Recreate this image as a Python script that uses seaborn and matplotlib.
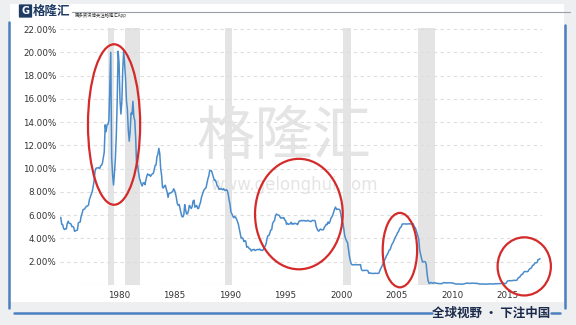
import numpy as np
import pandas as pd
import matplotlib
matplotlib.use("Agg")
import matplotlib.pyplot as plt
from matplotlib.patches import Ellipse, Rectangle, FancyBboxPatch
from matplotlib.lines import Line2D
import seaborn as sns

# ---------------- data (monthly effective federal funds rate, %) ----------------
start_year = 1975.75
rates = [
    5.82, 5.22, 5.20,
    4.87, 4.77, 4.84, 4.82, 5.29, 5.48, 5.31, 5.29, 5.25, 5.02, 5.03, 4.95,
    4.61, 4.68, 4.69, 4.73, 5.35, 5.39, 5.42, 5.90, 6.14, 6.47, 6.51, 6.56,
    6.70, 6.78, 6.79, 6.89, 7.36, 7.60, 7.81, 8.04, 8.45, 8.96, 9.76, 10.03,
    10.07, 10.06, 10.09, 10.01, 10.24, 10.29, 10.47, 10.94, 11.43, 13.77, 13.18, 13.78,
    13.82, 14.13, 17.19, 20.00, 10.98, 9.47, 8.60, 9.61, 10.87, 12.81, 15.85, 20.10,
    19.08, 15.93, 14.70, 15.72, 18.52, 20.20, 19.04, 17.82, 15.87, 15.08, 13.31, 12.37,
    13.22, 14.78, 14.68, 15.80, 14.45, 14.15, 12.59, 10.12, 10.31, 9.71, 9.20, 8.95,
    8.68, 8.51, 8.77, 8.80, 8.63, 8.98, 9.37, 9.56, 9.45, 9.48, 9.34, 9.47,
    9.56, 9.59, 9.91, 10.29, 10.32, 11.06, 11.23, 11.75, 11.30, 9.99, 9.43, 8.38,
    8.35, 8.50, 8.58, 8.27, 7.97, 7.53, 7.88, 7.90, 7.92, 7.99, 8.05, 8.27,
    8.14, 7.86, 7.48, 6.99, 6.85, 6.92, 6.56, 6.17, 5.89, 5.85, 6.04, 6.91,
    6.43, 6.10, 6.13, 6.37, 6.85, 6.73, 6.58, 6.73, 7.22, 7.29, 6.69, 6.77,
    6.83, 6.58, 6.58, 6.87, 7.09, 7.51, 7.75, 8.01, 8.19, 8.30, 8.35, 8.76,
    9.12, 9.36, 9.85, 9.84, 9.81, 9.53, 9.24, 8.99, 9.02, 8.84, 8.55, 8.45,
    8.23, 8.24, 8.28, 8.26, 8.18, 8.29, 8.15, 8.13, 8.20, 8.11, 7.81, 7.31,
    6.91, 6.25, 6.12, 5.91, 5.78, 5.90, 5.82, 5.66, 5.45, 5.21, 4.81, 4.43,
    4.03, 4.06, 3.98, 3.73, 3.82, 3.76, 3.25, 3.30, 3.22, 3.10, 3.09, 2.92,
    3.02, 3.03, 3.07, 2.96, 3.00, 3.04, 3.06, 3.03, 3.09, 2.99, 3.02, 2.96,
    3.05, 3.25, 3.34, 3.56, 4.01, 4.25, 4.26, 4.47, 4.73, 4.76, 5.29, 5.45,
    5.53, 5.92, 6.10, 6.05, 6.01, 6.00, 5.85, 5.74, 5.80, 5.76, 5.80, 5.60,
    5.56, 5.22, 5.31, 5.22, 5.24, 5.27, 5.40, 5.22, 5.30, 5.24, 5.31, 5.29,
    5.25, 5.19, 5.39, 5.51, 5.50, 5.56, 5.52, 5.54, 5.54, 5.50, 5.52, 5.50,
    5.56, 5.51, 5.49, 5.45, 5.49, 5.56, 5.54, 5.55, 5.51, 5.07, 4.83, 4.68,
    4.63, 4.76, 4.81, 4.74, 4.74, 4.76, 4.99, 5.07, 5.22, 5.20, 5.42, 5.30,
    5.45, 5.73, 5.85, 6.02, 6.27, 6.53, 6.70, 6.50, 6.52, 6.51, 6.51, 6.40,
    5.98, 5.49, 5.31, 4.80, 4.21, 3.97, 3.77, 3.65, 3.07, 2.49, 2.09, 1.82,
    1.73, 1.74, 1.73, 1.75, 1.75, 1.75, 1.73, 1.74, 1.75, 1.75, 1.34, 1.24,
    1.24, 1.26, 1.25, 1.26, 1.26, 1.22, 1.01, 1.03, 1.01, 1.01, 1.00, 0.98,
    1.00, 1.01, 1.00, 1.00, 1.00, 1.03, 1.26, 1.43, 1.61, 1.76, 1.93, 2.16,
    2.28, 2.50, 2.63, 2.79, 3.00, 3.04, 3.26, 3.50, 3.62, 3.78, 4.00, 4.16,
    4.29, 4.49, 4.59, 4.79, 4.94, 4.99, 5.24, 5.25, 5.25, 5.25, 5.25, 5.24,
    5.25, 5.26, 5.26, 5.25, 5.25, 5.25, 5.26, 5.02, 4.94, 4.76, 4.49, 4.24,
    3.94, 2.98, 2.61, 2.28, 1.98, 2.00, 2.01, 2.00, 1.81, 0.97, 0.39, 0.16,
    0.15, 0.22, 0.18, 0.15, 0.18, 0.21, 0.16, 0.16, 0.15, 0.12, 0.12, 0.12,
    0.11, 0.13, 0.16, 0.20, 0.20, 0.18, 0.18, 0.19, 0.19, 0.19, 0.19, 0.18,
    0.17, 0.16, 0.14, 0.10, 0.09, 0.09, 0.07, 0.10, 0.08, 0.07, 0.08, 0.07,
    0.08, 0.10, 0.13, 0.14, 0.16, 0.16, 0.16, 0.13, 0.14, 0.16, 0.16, 0.16,
    0.14, 0.15, 0.14, 0.15, 0.11, 0.09, 0.09, 0.08, 0.08, 0.09, 0.08, 0.09,
    0.07, 0.07, 0.08, 0.09, 0.09, 0.10, 0.09, 0.09, 0.09, 0.09, 0.09, 0.12,
    0.11, 0.11, 0.11, 0.12, 0.12, 0.13, 0.13, 0.14, 0.14, 0.12, 0.12, 0.24,
    0.34, 0.38, 0.36, 0.37, 0.37, 0.38, 0.39, 0.40, 0.40, 0.40, 0.41, 0.54,
    0.65, 0.66, 0.79, 0.90, 0.91, 1.04, 1.15, 1.16, 1.15, 1.15, 1.16, 1.30,
    1.41, 1.42, 1.51, 1.69, 1.70, 1.82, 1.91, 1.91, 1.95, 2.19, 2.20, 2.27,
]

# recession periods (decimal years)
recession_start = [1980.0, 1981.5, 1990.5, 2001.2, 2007.9]
recession_end = [1980.5, 1982.9, 1991.2, 2001.9, 2009.5]

x_ticks = [1980, 1985, 1990, 1995, 2000, 2005, 2010, 2015]
y_ticks = [2, 4, 6, 8, 10, 12, 14, 16, 18, 20, 22]

# highlight ellipses: centre year, centre value, width (years), height (%)
ell_cx = [1980.55, 1997.2, 2006.3, 2017.5]
ell_cy = [13.8, 6.1, 3.0, 1.6]
ell_w = [4.7, 7.9, 3.1, 4.8]
ell_h = [13.8, 9.5, 6.4, 5.0]

df = pd.DataFrame({
    "year": start_year + np.arange(len(rates)) / 12.0,
    "rate": rates,
})

# ---------------- figure ----------------
sns.set_style("white")
plt.rcParams["font.family"] = ["DejaVu Sans", "Noto Sans CJK SC"]

W, H = 576, 325
fig = plt.figure(figsize=(W / 100, H / 100), dpi=100)
fig.patch.set_facecolor("#eeeff1")

def fx(px):
    return px / W

def fy(py):
    return 1 - py / H

# white panel behind everything
fig.patches.append(Rectangle((fx(10), fy(302)), fx(554), fy(4) - fy(302),
                             transform=fig.transFigure, facecolor="white",
                             edgecolor="none", zorder=-10))

ax = fig.add_axes([fx(60), fy(285), fx(542 - 60), fy(28) - fy(285)])
ax.set_facecolor("none")

# recession shading
for s, e in zip(recession_start, recession_end):
    ax.axvspan(s, e, color="#e4e4e4", lw=0, zorder=0)

# watermark
ax.text(0.465, 0.575, "格隆汇", transform=ax.transAxes, fontsize=42,
        family=["Noto Sans CJK SC"], fontweight="light", color="#e4e4e4",
        ha="center", va="center", zorder=1)
ax.text(0.485, 0.39, "www.gelonghui.com", transform=ax.transAxes, fontsize=12,
        color="#e4e4e4", ha="center", va="center", zorder=1)

# gridlines
for v in [0] + y_ticks:
    ax.axhline(v, color="#c8c8c8" if v == 0 else "#dddddd", lw=0.8,
               ls=(0, (3, 3)), zorder=1)

sns.lineplot(data=df, x="year", y="rate", ax=ax, color="#4a8ccb", linewidth=1.1,
             zorder=3)

for cx, cy, w, h in zip(ell_cx, ell_cy, ell_w, ell_h):
    ax.add_patch(Ellipse((cx, cy), w, h, fill=False, edgecolor="#d42a2a",
                         lw=1.6, zorder=5, clip_on=False))

ax.set_xlim(1975.68, 2019.1)
ax.set_ylim(0, 22.1)
ax.set_xlabel("")
ax.set_ylabel("")
ax.set_xticks(x_ticks)
ax.set_xticklabels([str(t) for t in x_ticks], fontsize=6.3, color="#333333")
for lab in ax.get_xticklabels():
    lab.set_horizontalalignment("left")
ax.set_yticks(y_ticks)
ax.set_yticklabels([f"{v:.2f}%" for v in y_ticks], fontsize=6.3, color="#333333")
ax.tick_params(axis="both", length=0)
ax.tick_params(axis="x", pad=4.5)
ax.tick_params(axis="y", pad=2.5)
for sp in ax.spines.values():
    sp.set_visible(False)

# frame lines (slide border)
blue = "#4b7fbf"
fig.lines.append(Line2D([fx(9), fx(9)], [fy(22), fy(308)], transform=fig.transFigure,
                        color=blue, lw=1.8))
fig.lines.append(Line2D([fx(14), fx(432)], [fy(313), fy(313)], transform=fig.transFigure,
                        color=blue, lw=1.8))
fig.lines.append(Line2D([fx(551), fx(560)], [fy(313), fy(313)], transform=fig.transFigure,
                        color=blue, lw=1.8))
fig.lines.append(Line2D([fx(565), fx(565)], [fy(25), fy(308)], transform=fig.transFigure,
                        color=blue, lw=1.8))
fig.lines.append(Line2D([fx(72), fx(570)], [fy(12), fy(12)], transform=fig.transFigure,
                        color="#9a9ea6", lw=0.8))

# logo
fig.patches.append(FancyBboxPatch((fx(20), fy(17)), fx(11), fy(5) - fy(17),
                                  boxstyle="round,pad=0.002", transform=fig.transFigure,
                                  facecolor="#1f3b63", edgecolor="none"))
fig.text(fx(25.5), fy(11), "G", color="white", fontsize=7, fontweight="bold",
         ha="center", va="center")
fig.text(fx(33), fy(11), "格隆汇", family=["Noto Sans CJK SC"], fontsize=9,
         fontweight="bold", color="#1f3b63", ha="left", va="center")
fig.text(fx(75), fy(15.5), "更多资讯请关注格隆汇App", family=["Noto Sans CJK SC", "DejaVu Sans"],
         fontsize=3.2, color="#333333", ha="left", va="center")

fig.text(fx(491), fy(313), "全球视野 • 下注中国", family=["Noto Sans CJK SC", "DejaVu Sans"],
         fontsize=9, fontweight="bold", color="#1a2a4a", ha="center", va="center")

fig.savefig("out.png", dpi=100, facecolor=fig.get_facecolor())
